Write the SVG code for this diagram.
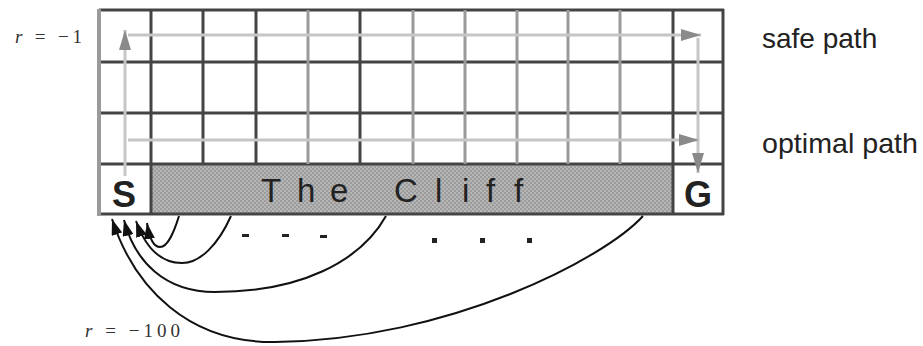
<svg xmlns="http://www.w3.org/2000/svg" width="923" height="346" viewBox="0 0 923 346">
<style>
.gh{stroke:#444;stroke-width:3}
.gd{stroke:#444;stroke-width:3}
.gl{stroke:#9a9a9a;stroke-width:3}
.route{fill:none;stroke:#c6c6c6;stroke-width:3}
.jump{fill:none;stroke:#111;stroke-width:2}
.sans{font-family:"Liberation Sans",Arial,sans-serif;fill:#222}
.serif{font-family:"Liberation Serif","Times New Roman",serif;fill:#333}
.dot{fill:#222}
</style>
<defs>
<pattern id="hatch" width="4" height="4" patternUnits="userSpaceOnUse">
<rect width="4" height="4" fill="#b6b6b6"/>
<rect width="2" height="2" fill="#9c9c9c"/>
<rect x="2" y="2" width="2" height="2" fill="#9c9c9c"/>
</pattern>
<marker id="ga" markerWidth="20" markerHeight="12" refX="20" refY="6" orient="auto" markerUnits="userSpaceOnUse">
<path d="M0,0 L20,6 L0,12 Z" fill="#8a8a8a"/>
</marker>
<marker id="ba" markerWidth="16" markerHeight="11" refX="16" refY="5.5" orient="auto" markerUnits="userSpaceOnUse">
<path d="M0,0 L16,5.5 L0,11 Z" fill="#111"/>
</marker>
</defs>
<rect width="923" height="346" fill="#fff"/>

<g id="cliff">
<rect x="151" y="164" width="522" height="50" fill="url(#hatch)"/>
<text class="sans" font-size="33" y="202" x="261 297 330 365 394 435 462 486 514">The Cliff</text>
</g>

<g id="grid">
<line class="gh" x1="99" y1="10" x2="724" y2="10"/>
<line class="gh" x1="99" y1="62" x2="724" y2="62"/>
<line class="gh" x1="99" y1="113" x2="724" y2="113"/>
<line class="gh" x1="99" y1="164" x2="724" y2="164"/>
<line class="gh" x1="99" y1="214" x2="724" y2="214"/>
<line class="gl" x1="308" y1="10" x2="308" y2="164"/>
<line class="gl" x1="413" y1="10" x2="413" y2="164"/>
<line class="gl" x1="465" y1="10" x2="465" y2="164"/>
<line class="gl" x1="517" y1="10" x2="517" y2="164"/>
<line class="gl" x1="568" y1="10" x2="568" y2="164"/>
<line class="gl" x1="620" y1="10" x2="620" y2="164"/>
<line class="gd" x1="203" y1="10" x2="203" y2="164"/>
<line class="gd" x1="256" y1="10" x2="256" y2="164"/>
<line class="gd" x1="360" y1="10" x2="360" y2="164"/>
<line class="gd" x1="151" y1="10" x2="151" y2="214"/>
<line class="gd" x1="673" y1="10" x2="673" y2="214"/>
<line class="gd" x1="723" y1="9" x2="723" y2="215"/>
<line stroke="#9a9a9a" stroke-width="4" x1="99" y1="9" x2="99" y2="216"/>
</g>

<g id="start">
<text class="sans" font-size="36" font-weight="bold" x="124" y="207" text-anchor="middle">S</text>
</g>
<g id="goal">
<text class="sans" font-size="36" font-weight="bold" x="698" y="207" text-anchor="middle">G</text>
</g>

<g id="connectors">
<line class="route" x1="125" y1="176" x2="125" y2="30" marker-end="url(#ga)"/>
<line class="route" x1="128" y1="35" x2="701" y2="35" marker-end="url(#ga)"/>
<line class="route" x1="698" y1="38" x2="698" y2="173" marker-end="url(#ga)"/>
<line class="route" x1="128" y1="140" x2="699" y2="140" marker-end="url(#ga)"/>

<path class="jump" d="M179,216 C174,232 168,247 160,247 C153,247 149,236 147,223" marker-end="url(#ba)"/>
<path class="jump" d="M231,216 C218,245 200,263 182,263 C160,263 145,246 136,221" marker-end="url(#ba)"/>
<path class="jump" d="M386,216 C360,262 300,292 215,292 C165,292 135,262 124,220" marker-end="url(#ba)"/>
<path class="jump" d="M643,216 C605,258 450,340 275,342 C190,343 135,290 112,219" marker-end="url(#ba)"/>
</g>

<g id="ellipsis">
<rect class="dot" x="242" y="234" width="7" height="3"/>
<rect class="dot" x="282" y="234" width="7" height="3"/>
<rect class="dot" x="320" y="235" width="7" height="3"/>
<rect class="dot" x="432" y="238" width="5" height="5"/>
<rect class="dot" x="480" y="238" width="5" height="5"/>
<rect class="dot" x="527" y="238" width="5" height="5"/>
</g>

<g id="labels">
<text class="serif" font-size="19" x="15" y="43" textLength="67" lengthAdjust="spacing"><tspan font-style="italic">r</tspan> = −1</text>
<text class="serif" font-size="19" x="85" y="337" textLength="95" lengthAdjust="spacing"><tspan font-style="italic">r</tspan> = −100</text>
<text class="sans" font-size="28" x="762" y="48">safe path</text>
<text class="sans" font-size="28" x="762" y="153" textLength="156" lengthAdjust="spacingAndGlyphs">optimal path</text>
</g>
</svg>
